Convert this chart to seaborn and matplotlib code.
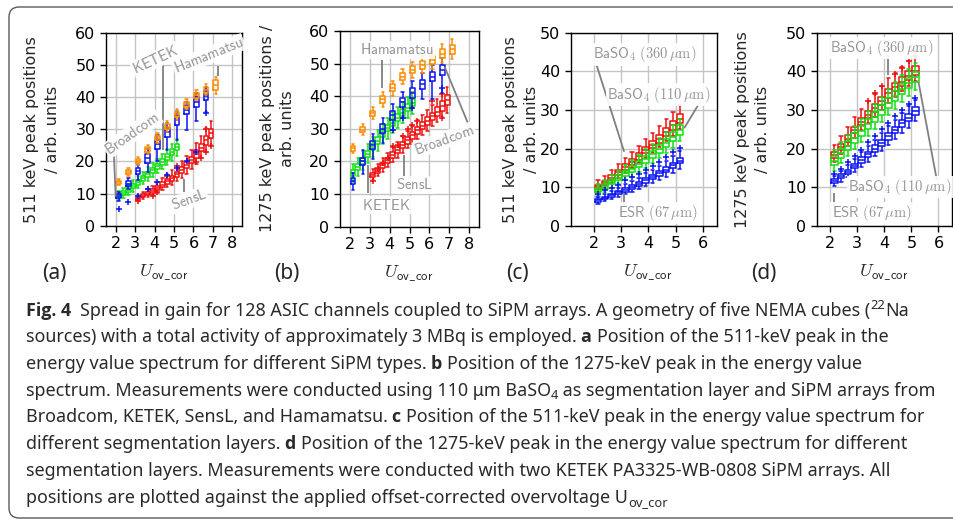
# Spread in gain: peak positions vs. overvoltage for several SiPMs / reflectors

import numpy as np
import seaborn as sns
import matplotlib.pyplot as plt
from matplotlib.patches import FancyBboxPatch

sns.set_theme(style="whitegrid")
plt.rcParams['font.family'] = ['DejaVu Sans']
plt.rcParams['mathtext.fontset'] = 'cm'
plt.rcParams['axes.edgecolor'] = 'black'
plt.rcParams['axes.linewidth'] = 1.0
plt.rcParams['grid.color'] = '#c4c4c4'
plt.rcParams['grid.linewidth'] = 1.0

C_ORANGE = "#ff8c00"
C_BLUE = "#0a14f0"
C_GREEN = "#11e011"
C_RED = "#f01010"
ANN_GREY = "#959595"

# x positions (U_ov_cor)
X_HALF = [2.15, 2.65, 3.15, 3.65, 4.15, 4.65, 5.15, 5.65, 6.15, 6.65, 7.15]
X_HALF10 = [2.15, 2.65, 3.15, 3.65, 4.15, 4.65, 5.15, 5.65, 6.15, 6.65]
X_QTR = [2.15, 2.4, 2.65, 2.9, 3.15, 3.4, 3.65, 3.9, 4.15, 4.4, 4.65, 4.9, 5.15]
X_SNL = [3.15, 3.4, 3.65, 3.9, 4.15, 4.4, 4.65, 4.9, 5.15, 5.4, 5.65, 5.9,
         6.15, 6.4, 6.65, 6.9]

# box stats per point: (whisker low, q1, median, q3, whisker high)
# ---- (a) 511 keV, SiPM types
A_HAM = [(12.7, 13.1, 13.5, 14.0, 14.4), (15.6, 16.1, 16.7, 17.3, 17.9),
         (19.0, 19.6, 20.2, 20.8, 21.5), (22.4, 23.0, 23.7, 24.4, 25.2),
         (25.8, 26.5, 27.2, 28.0, 28.8), (29.2, 30.0, 30.8, 31.6, 32.5),
         (33.0, 33.9, 34.7, 35.5, 36.4), (36.2, 37.0, 37.8, 38.6, 39.4),
         (39.0, 39.8, 40.6, 41.4, 42.2), (40.6, 41.4, 42.2, 43.0, 44.2),
         (41.0, 42.2, 43.8, 45.2, 46.2)]
A_BRC = [(7.8, 8.5, 9.1, 9.7, 10.6), (11.3, 12.3, 13.0, 13.8, 14.8),
         (14.2, 16.0, 17.0, 18.0, 19.0), (16.8, 19.6, 21.0, 22.4, 23.8),
         (20.2, 24.0, 25.4, 26.8, 28.2), (23.4, 27.6, 29.0, 30.4, 31.8),
         (26.8, 31.4, 33.0, 34.4, 35.8), (29.8, 34.6, 36.0, 37.4, 38.6),
         (32.4, 37.0, 38.6, 40.0, 41.4), (35.4, 39.0, 40.4, 41.8, 43.0)]
A_BRC_FX = [2.15, 2.65, 3.15, 3.65, 4.15, 4.65, 5.15, 5.65, 6.15, 6.65]
A_BRC_FY = [5.2, 7.3, 9.3, 11.3, 13.5, 15.8, 18.0, 20.2, 22.8, 35.0]
A_KET = [(8.0, 8.8, 9.4, 10.0, 10.8), (8.6, 9.5, 10.2, 10.9, 11.8),
         (9.6, 10.5, 11.2, 11.9, 12.9), (10.6, 11.6, 12.3, 13.0, 14.1),
         (11.7, 12.8, 13.5, 14.2, 15.4), (12.9, 14.0, 14.8, 15.6, 16.8),
         (14.0, 15.2, 16.0, 16.8, 18.1), (15.1, 16.4, 17.2, 18.0, 19.4),
         (16.3, 17.7, 18.5, 19.3, 20.8), (17.5, 19.0, 19.8, 20.7, 22.2),
         (18.8, 20.4, 21.3, 22.2, 23.8), (20.2, 21.9, 22.8, 23.7, 25.4),
         (21.7, 23.4, 24.4, 25.4, 27.0)]
A_SNL = [(7.6, 8.1, 8.5, 8.9, 9.6), (8.2, 8.8, 9.3, 9.8, 10.6),
         (8.8, 9.5, 10.0, 10.5, 11.5), (9.5, 10.2, 10.8, 11.4, 12.4),
         (10.3, 11.2, 11.8, 12.4, 13.6), (11.2, 12.1, 12.8, 13.5, 14.8),
         (12.0, 13.1, 13.8, 14.5, 16.0), (12.8, 14.0, 14.8, 15.6, 17.2),
         (13.8, 15.2, 16.0, 16.8, 18.6), (14.9, 16.4, 17.3, 18.2, 20.0),
         (16.2, 17.8, 18.8, 19.8, 21.8), (17.7, 19.5, 20.5, 21.5, 23.6),
         (19.2, 21.2, 22.3, 23.4, 25.7), (21.0, 23.1, 24.3, 25.5, 28.0),
         (23.0, 25.2, 26.5, 27.8, 30.3), (25.0, 27.3, 28.7, 30.1, 32.6)]
A_SNL_FX = [3.15, 3.65, 3.9, 4.15, 4.65, 5.15, 6.15, 6.4, 6.65, 6.65, 6.9]
A_SNL_FY = [7.8, 11.3, 9.3, 10.4, 15.6, 18.6, 19.8, 21.2, 23.0, 30.0, 24.7]

# ---- (b) 1275 keV, SiPM types
B_HAM = [(22.6, 23.3, 24.0, 24.7, 25.4), (28.0, 28.9, 29.7, 30.5, 31.4),
         (33.0, 34.0, 34.8, 35.6, 36.6), (36.8, 38.0, 39.0, 40.0, 41.2),
         (40.2, 41.5, 42.5, 43.6, 44.8), (43.6, 45.0, 46.0, 47.0, 48.4),
         (45.6, 47.0, 48.0, 49.2, 50.6), (47.0, 48.5, 49.6, 50.8, 52.4),
         (48.2, 49.8, 51.0, 52.4, 54.0), (50.2, 51.8, 53.0, 54.4, 56.0),
         (51.4, 53.0, 54.4, 55.8, 57.4)]
B_BRC = [(11.2, 13.2, 14.0, 14.8, 16.6), (16.2, 18.8, 20.0, 21.2, 23.4),
         (20.8, 23.8, 25.0, 26.2, 28.4), (25.6, 28.6, 30.0, 31.4, 33.4),
         (29.6, 32.8, 34.2, 35.6, 37.6), (33.4, 36.8, 38.2, 39.6, 41.4),
         (36.4, 39.6, 41.0, 42.4, 44.6), (39.0, 42.2, 43.6, 45.0, 47.0),
         (39.2, 44.6, 46.0, 47.4, 49.6), (41.0, 46.6, 48.0, 49.6, 51.8)]
B_BRC_FX = [4.15, 4.65, 5.15, 6.65]
B_BRC_FY = [29.6, 33.2, 36.4, 42.5]
B_KET = [(13.8, 15.6, 16.5, 17.4, 19.2), (15.6, 17.5, 18.4, 19.3, 21.2),
         (17.4, 19.3, 20.2, 21.1, 23.1), (19.4, 21.4, 22.3, 23.2, 25.2),
         (21.4, 23.4, 24.4, 25.4, 27.4), (23.3, 25.4, 26.4, 27.4, 29.5),
         (25.3, 27.4, 28.4, 29.4, 31.6), (27.0, 29.2, 30.2, 31.2, 33.4),
         (28.7, 30.9, 31.9, 32.9, 35.1), (30.2, 32.4, 33.4, 34.4, 36.6),
         (31.8, 34.0, 35.0, 36.0, 38.2), (33.2, 35.4, 36.5, 37.6, 39.8),
         (34.6, 36.9, 38.0, 39.1, 41.4)]
B_SNL = [(14.2, 15.1, 15.8, 16.5, 17.6), (15.4, 16.4, 17.2, 18.0, 19.3),
         (16.9, 18.0, 18.8, 19.6, 21.0), (18.2, 19.4, 20.3, 21.2, 22.7),
         (19.8, 21.1, 22.0, 22.9, 24.5), (21.2, 22.6, 23.5, 24.4, 26.1),
         (22.6, 24.0, 25.0, 26.0, 27.8), (24.0, 25.5, 26.5, 27.5, 29.4),
         (25.4, 27.0, 28.0, 29.0, 31.0), (26.8, 28.4, 29.5, 30.6, 32.6),
         (28.2, 29.9, 31.0, 32.1, 34.2), (29.4, 31.2, 32.4, 33.6, 35.8),
         (30.8, 32.6, 33.8, 35.0, 37.4), (32.0, 34.0, 35.3, 36.6, 39.2),
         (33.6, 35.6, 37.0, 38.4, 41.0), (35.0, 37.3, 38.8, 40.3, 42.8)]
B_SNL_FX = [3.15, 3.4, 3.65, 3.9, 4.15, 4.4, 4.65, 4.9, 5.15, 5.4, 6.15, 6.65, 6.65]
B_SNL_FY = [13.9, 17.6, 19.4, 21.1, 24.6, 25.0, 27.7, 30.0, 31.2, 32.4, 38.4, 40.6, 33.4]

# ---- (c) 511 keV, segmentation layers
C_360 = [(8.8, 9.5, 10.0, 10.5, 11.8), (9.8, 10.6, 11.1, 11.7, 13.0),
         (11.1, 11.9, 12.5, 13.1, 14.6), (12.4, 13.3, 13.9, 14.5, 16.1),
         (13.7, 14.6, 15.3, 16.0, 17.7), (14.9, 15.9, 16.6, 17.3, 19.2),
         (16.2, 17.2, 18.0, 18.8, 20.8), (17.6, 18.8, 19.6, 20.4, 22.5),
         (18.9, 20.1, 21.0, 21.9, 24.0), (20.4, 21.6, 22.6, 23.6, 25.8),
         (21.9, 23.3, 24.3, 25.3, 27.6), (23.4, 24.9, 26.0, 27.1, 29.4),
         (25.0, 26.6, 27.8, 29.0, 31.2)]
C_110 = [(7.9, 8.8, 9.3, 9.8, 10.8), (8.8, 9.7, 10.3, 10.9, 12.0),
         (9.8, 10.8, 11.4, 12.0, 13.2), (10.8, 11.8, 12.5, 13.2, 14.5),
         (11.8, 12.9, 13.6, 14.3, 15.7), (12.8, 13.9, 14.7, 15.5, 17.0),
         (13.9, 15.2, 16.0, 16.8, 18.4), (15.0, 16.4, 17.3, 18.2, 19.8),
         (16.2, 17.7, 18.6, 19.5, 21.2), (17.5, 19.0, 20.0, 21.0, 22.7),
         (18.9, 20.5, 21.5, 22.5, 24.3), (20.3, 22.0, 23.1, 24.2, 26.0),
         (21.9, 23.6, 24.8, 26.0, 27.8)]
C_ESR = [(5.8, 6.3, 6.6, 6.9, 7.4), (6.4, 7.0, 7.3, 7.6, 8.2),
         (7.0, 7.6, 8.0, 8.4, 9.0), (7.6, 8.3, 8.7, 9.1, 9.9),
         (8.2, 8.9, 9.4, 9.9, 10.8), (8.8, 9.6, 10.1, 10.6, 11.6),
         (9.5, 10.4, 10.9, 11.4, 12.5), (10.3, 11.2, 11.8, 12.4, 13.6),
         (11.1, 12.1, 12.7, 13.3, 14.6), (11.9, 13.0, 13.6, 14.2, 15.6),
         (12.8, 13.9, 14.6, 15.3, 16.8), (13.7, 15.0, 15.7, 16.4, 18.0),
         (14.8, 16.2, 16.9, 17.6, 19.4)]
C_ESR_FY = [8.3, 9.2, 9.9, 10.7, 11.8, 12.6, 13.5, 14.6, 15.5, 16.6, 17.8, 19.1, 20.3]

# ---- (d) 1275 keV, segmentation layers
D_360 = [(16.6, 17.5, 18.3, 19.1, 21.0), (18.6, 19.6, 20.4, 21.2, 23.3),
         (20.6, 21.6, 22.5, 23.4, 25.7), (22.8, 23.9, 24.8, 25.7, 28.2),
         (24.8, 26.0, 26.9, 27.8, 30.3), (26.6, 27.8, 28.8, 29.8, 32.4),
         (28.2, 29.5, 30.5, 31.5, 34.2), (30.0, 31.4, 32.4, 33.4, 36.2),
         (31.8, 33.2, 34.3, 35.4, 38.2), (33.4, 34.8, 35.9, 37.0, 39.6),
         (34.8, 36.2, 37.3, 38.4, 41.0), (36.2, 37.8, 38.9, 40.0, 42.6),
         (37.4, 39.0, 40.2, 41.4, 43.8)]
D_360_FX = [3.4, 3.65, 3.9, 4.4, 4.65, 4.9, 5.15]
D_360_FY = [32.4, 34.4, 36.2, 39.4, 40.8, 42.6, 44.0]
D_110 = [(14.2, 15.6, 16.8, 18.0, 19.6), (16.2, 17.6, 18.8, 20.0, 21.6),
         (18.0, 19.5, 20.7, 21.9, 23.6), (19.8, 21.4, 22.7, 24.0, 25.8),
         (21.6, 23.2, 24.5, 25.8, 27.6), (23.3, 25.0, 26.3, 27.6, 29.6),
         (25.1, 26.9, 28.2, 29.5, 31.6), (26.8, 28.7, 30.0, 31.3, 33.4),
         (28.6, 30.5, 31.8, 33.1, 35.4), (30.2, 32.2, 33.5, 34.8, 37.2),
         (32.0, 34.0, 35.3, 36.6, 39.0), (33.6, 35.6, 36.9, 38.2, 40.6),
         (35.2, 37.2, 38.5, 39.8, 42.2)]
D_ESR = [(10.2, 11.0, 11.5, 12.0, 12.9), (11.3, 12.3, 12.8, 13.3, 14.3),
         (12.5, 13.5, 14.0, 14.5, 15.6), (13.8, 14.9, 15.5, 16.1, 17.3),
         (15.2, 16.3, 17.0, 17.7, 19.0), (16.6, 17.8, 18.5, 19.2, 20.6),
         (18.0, 19.2, 20.0, 20.8, 22.3), (19.4, 20.7, 21.5, 22.3, 24.0),
         (21.0, 22.3, 23.2, 24.1, 25.8), (22.4, 23.9, 24.8, 25.7, 27.5),
         (24.0, 25.5, 26.5, 27.5, 29.3), (25.4, 27.0, 28.0, 29.0, 30.9),
         (27.0, 28.7, 29.7, 30.7, 32.6)]
D_ESR_FY = [13.3, 14.8, 16.4, 18.0, 19.6, 21.6, 23.2, 25.0, 26.6, 28.4, 30.0, 31.6, 33.2]

BASO_360 = r"$\mathsf{BaSO}_4\ (360\,\mathrm{\mu m})$"
BASO_110 = r"$\mathsf{BaSO}_4\ (110\,\mathrm{\mu m})$"
ESR_67 = r"$\mathsf{ESR}\ (67\,\mathrm{\mu m})$"


def sf(s):
    return r"$\mathsf{" + s + "}$"


PANELS = [
    dict(tag="(a)", rect=[0.1111, 0.5668, 0.1426, 0.3704], xlim=(1.5, 8.5), ylim=(0, 60),
         xticks=range(2, 9), ylabel="511 keV peak positions\n/ arb. units",
         ylab_x=-0.47, xlab_x=0.426,
         series=[(X_QTR, A_KET, C_GREEN, None, None),
                 (X_SNL, A_SNL, C_RED, A_SNL_FX, A_SNL_FY),
                 (X_HALF10, A_BRC, C_BLUE, A_BRC_FX, A_BRC_FY),
                 (X_HALF, A_HAM, C_ORANGE, None, None)],
         notes=[(sf("Broadcom"), 2.86, 28.7, 35, (1.9, 23.0), (2.0, 9.0)),
                (sf("KETEK"), 4.05, 51.7, 25, (4.43, 50.5), (4.43, 23.5)),
                (sf("Hamamatsu"), 6.79, 53.0, 22, (7.25, 49.8), (7.25, 46.4)),
                (sf("SensL"), 5.76, 8.0, 20, (5.5, 10.6), (5.5, 14.4))]),
    dict(tag="(b)", rect=[0.3564, 0.5649, 0.1457, 0.3756], xlim=(1.5, 8.5), ylim=(0, 60),
         xticks=range(2, 9), ylabel="1275 keV peak positions /\narb. units",
         ylab_x=-0.45, xlab_x=0.49,
         series=[(X_QTR, B_KET, C_GREEN, None, None),
                 (X_SNL, B_SNL, C_RED, B_SNL_FX, B_SNL_FY),
                 (X_HALF10, B_BRC, C_BLUE, B_BRC_FX, B_BRC_FY),
                 (X_HALF, B_HAM, C_ORANGE, None, None)],
         notes=[(sf("Hamamatsu"), 4.38, 54.2, 0, (3.59, 51.0), (3.59, 42.4)),
                (sf("KETEK"), 3.84, 6.6, 0, (2.92, 18.9), (2.92, 10.2)),
                (sf("SensL"), 5.27, 12.8, 0, (4.71, 22.0), (4.71, 15.3)),
                (sf("Broadcom"), 6.77, 26.6, 20, (6.77, 49.0), (8.0, 30.9))]),
    dict(tag="(c)", rect=[0.5982, 0.5662, 0.1530, 0.3710], xlim=(1.15, 6.5), ylim=(0, 50),
         xticks=range(2, 7), ylabel="511 keV peak positions\n/ arb. units",
         ylab_x=-0.34, xlab_x=0.526,
         series=[(X_QTR, C_360, C_RED, None, None),
                 (X_QTR, C_110, C_GREEN, None, None),
                 (X_QTR, C_ESR, C_BLUE, X_QTR, C_ESR_FY)],
         notes=[(BASO_360, 3.87, 44.4, 0, (2.1, 41.6), (3.11, 19.2)),
                (BASO_110, 4.39, 34.0, 0, (5.9, 32.2), (5.31, 25.3)),
                (ESR_67, 4.36, 3.3, 0, (3.11, 8.6), (3.11, 5.4))]),
    dict(tag="(d)", rect=[0.8561, 0.5668, 0.1418, 0.3704], xlim=(1.5, 6.5), ylim=(0, 50),
         xticks=range(2, 7), ylabel="1275 keV peak positions\n/ arb. units",
         ylab_x=-0.475, xlab_x=0.497,
         series=[(X_QTR, D_360, C_RED, D_360_FX, D_360_FY),
                 (X_QTR, D_110, C_GREEN, None, None),
                 (X_QTR, D_ESR, C_BLUE, X_QTR, D_ESR_FY)],
         notes=[(BASO_360, 3.89, 46.1, 0, (4.14, 44.2), (4.14, 39.0)),
                (BASO_110, 4.58, 10.1, 0, (5.94, 11.8), (5.26, 37.3)),
                (ESR_67, 3.53, 3.2, 0, (2.15, 8.4), (2.15, 4.9))]),
]

BOX_W = 0.24

CAPTION = [
    [("Fig. 4  ", "bold", "n"),
     ("Spread in gain for 128 ASIC channels coupled to SiPM arrays. A geometry of five NEMA cubes (", "normal", "n"),
     ("22", "normal", "sup"), ("Na", "normal", "n")],
    [("sources) with a total activity of approximately 3 MBq is employed. ", "normal", "n"),
     ("a ", "bold", "n"), ("Position of the 511-keV peak in the", "normal", "n")],
    [("energy value spectrum for different SiPM types. ", "normal", "n"),
     ("b ", "bold", "n"), ("Position of the 1275-keV peak in the energy value", "normal", "n")],
    [("spectrum. Measurements were conducted using 110 \u03bcm BaSO", "normal", "n"),
     ("4", "normal", "sub"), (" as segmentation layer and SiPM arrays from", "normal", "n")],
    [("Broadcom, KETEK, SensL, and Hamamatsu. ", "normal", "n"),
     ("c ", "bold", "n"), ("Position of the 511-keV peak in the energy value spectrum for", "normal", "n")],
    [("different segmentation layers. ", "normal", "n"),
     ("d ", "bold", "n"), ("Position of the 1275-keV peak in the energy value spectrum for different", "normal", "n")],
    [("segmentation layers. Measurements were conducted with two KETEK PA3325-WB-0808 SiPM arrays. All", "normal", "n")],
    [("positions are plotted against the applied offset-corrected overvoltage U", "normal", "n"),
     ("ov_cor", "normal", "sub")],
]


def draw_series(ax, xs, stats, color, fx, fy, z):
    """Draw one series of boxes at their numeric positions"""
    xx = [x for x, s in zip(xs, stats) for _ in s]
    yy = [v for s in stats for v in s]
    spacing = np.diff(sorted(set(xs))).min()
    sns.boxplot(x=xx, y=yy, native_scale=True, orient="x", fill=False, color=color,
                width=BOX_W / spacing, whis=(0, 100), showfliers=False,
                linewidth=1.1, ax=ax, zorder=z)
    if fx is not None:
        sns.scatterplot(x=fx, y=fy, marker="+", color=color, s=22, linewidth=1.1,
                        ax=ax, zorder=z, legend=False)


fig = plt.figure(figsize=(9.54, 5.21), dpi=100)

# card border (right side runs off the canvas)
fig.patches.append(FancyBboxPatch((0.09, 0.03), 10.5, 5.11,
                                  boxstyle="round,pad=0,rounding_size=0.1",
                                  transform=fig.dpi_scale_trans, fc="none",
                                  ec="#5a5a5a", lw=1.0))

for p in PANELS:
    ax = fig.add_axes(p["rect"])
    for i, (xs, stats, color, fx, fy) in enumerate(p["series"]):
        draw_series(ax, xs, stats, color, fx, fy, 3 + i)
    ax.set_xlim(*p["xlim"])
    ax.set_ylim(*p["ylim"])
    ax.set_xticks(list(p["xticks"]))
    ax.set_yticks(np.arange(p["ylim"][0], p["ylim"][1] + 1, 10))
    ax.set_axisbelow(True)
    ax.grid(True, color="#c4c4c4", lw=1.0)
    for s in ax.spines.values():
        s.set_color("black")
        s.set_linewidth(1.0)
    ax.tick_params(direction="out", length=4, width=1, colors="black",
                   labelsize=11.5, bottom=True, left=True)

    ax.set_xlabel(r"$U_{\mathsf{ov\_cor}}$", fontsize=13)
    ax.xaxis.set_label_coords(p["xlab_x"], -0.24)
    ax.xaxis.label.set_va("center")
    ax.set_ylabel(p["ylabel"], fontsize=11.5, linespacing=1.45)
    ax.yaxis.set_label_coords(p["ylab_x"], 0.5)
    ax.yaxis.label.set_va("center")

    for txt, tx, ty, rot, p0, p1 in p["notes"]:
        ax.plot([p0[0], p1[0]], [p0[1], p1[1]], color="#808080", lw=1.3, zorder=8,
                solid_capstyle="butt")
        ax.text(tx, ty, txt, color=ANN_GREY, fontsize=10.5, rotation=rot,
                ha="center", va="center", zorder=9, rotation_mode="anchor",
                bbox=dict(fc="white", ec="none", pad=0.8, alpha=0.9))

    x0 = p["rect"][0]
    fig.text(x0 - 0.0556 + (0.0020 if p["tag"] == "(a)" else 0), 0.476, p["tag"],
             fontsize=15, family="Noto Sans", ha="center", va="center")

# caption, drawn piece by piece so the bold letters sit inline
renderer = fig.canvas.get_renderer()
CAP_SIZE = 12.9
fig_w = fig.bbox.width


def cap_family(weight):
    return "Open Sans" if weight == "bold" else "Noto Sans"


def piece_width(s, weight, size):
    fam = cap_family(weight)
    t = fig.text(0, 0, s + "|", fontsize=size, weight=weight, family=fam)
    w = t.get_window_extent(renderer).width
    t.remove()
    t = fig.text(0, 0, "|", fontsize=size, weight=weight, family=fam)
    w -= t.get_window_extent(renderer).width
    t.remove()
    return w


y = 1 - 315.7 / 521
for line in CAPTION:
    x = 26 / 954
    for s, weight, kind in line:
        size = CAP_SIZE if kind == "n" else CAP_SIZE * 0.72
        dy = {"n": 0, "sup": 7 / 521, "sub": -3.5 / 521}[kind]
        fig.text(x, y + dy, s, fontsize=size, weight=weight, family=cap_family(weight),
                 color="#2a2a2a", ha="left", va="baseline")
        x += piece_width(s, weight, size) / fig_w
    y -= 26.7 / 521

fig.savefig("out.png", dpi=100)
